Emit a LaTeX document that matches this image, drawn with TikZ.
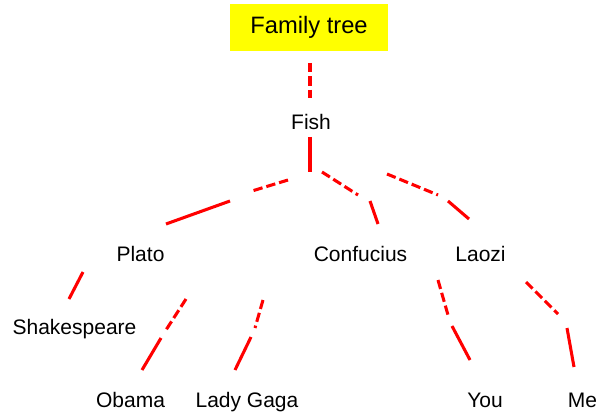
\documentclass[tikz,border=0pt]{standalone}
\usepackage{fontspec}
\setmainfont{Liberation Sans}
\usepackage{tikz}

\tikzset{
  link/.style={draw={rgb, 255:red, 255; green, 0; blue, 0}, line width=2.3pt},
  linkdash/.style={link, dash pattern=on 7pt off 3pt},
  person/.style={anchor=base, inner sep=0.75pt, font=\fontsize{15.75}{19}\selectfont},
  titlebox/.style={fill={rgb, 255:red, 255; green, 255; blue, 0}, minimum width=118.5pt, minimum height=35.25pt, inner sep=0pt, font=\fontsize{17.8}{21}\selectfont}
}

\begin{document}
\begin{tikzpicture}[x=0.75pt,y=0.75pt,yscale=-1,xscale=1]
%set diagram left start at 0, and has height of 413
\path[use as bounding box] (0,0) rectangle (598,413);

% Title Box
\node (title) [titlebox] at (309,27.5) {Family tree};

% Text Node
\draw (311,130) node (fish) [person] {Fish};
% Text Node
\draw (140.5,261) node (plato) [person] {Plato};
% Text Node
\draw (360.5,261) node (confucius) [person] {Confucius};
% Text Node
\draw (480.5,261) node (laozi) [person] {Laozi};
% Text Node
\draw (74.5,334) node (shakespeare) [person] {Shakespeare};
% Text Node
\draw (130.5,407) node (obama) [person] {Obama};
% Text Node
\draw (247,407) node (ladygaga) [person] {Lady Gaga};
% Text Node
\draw (485,407) node (you) [person] {You};
% Text Node
\draw (582.5,407) node (me) [person] {Me};

%Coordinates of the line ends
\coordinate (tf1) at (310,63);   \coordinate (tf2) at (310,98);
\coordinate (fr1) at (310,137);  \coordinate (fr2) at (310,172);
\coordinate (fp1) at (288,180);  \coordinate (fp2) at (252,191);
\coordinate (fp3) at (230,201);  \coordinate (fp4) at (166,224);
\coordinate (fc1) at (322,172);  \coordinate (fc2) at (358,195);
\coordinate (fc3) at (370,201);  \coordinate (fc4) at (378,224);
\coordinate (fl1) at (387,174);  \coordinate (fl2) at (438,195);
\coordinate (fl3) at (448,201);  \coordinate (fl4) at (469,219);
\coordinate (ps1) at (83,272);   \coordinate (ps2) at (69,299);
\coordinate (po1) at (186,299);  \coordinate (po2) at (166,330);
\coordinate (po3) at (161,338);  \coordinate (po4) at (142,370);
\coordinate (pg1) at (263,300);  \coordinate (pg2) at (255,328);
\coordinate (pg3) at (251,337);  \coordinate (pg4) at (235,370);
\coordinate (ly1) at (438,280);  \coordinate (ly2) at (448,315);
\coordinate (ly3) at (452,326);  \coordinate (ly4) at (470,360);
\coordinate (lm1) at (526,282);  \coordinate (lm2) at (558,314);
\coordinate (lm3) at (567,328);  \coordinate (lm4) at (574,367);

%Straight Lines
\draw [linkdash] (tf1) -- (tf2) ;
%Straight Lines
\draw [link] (fr1) -- (fr2) ;
%Straight Lines
\draw [linkdash] (fp1) -- (fp2) ;
\draw [link] (fp3) -- (fp4) ;
%Straight Lines
\draw [linkdash] (fc1) -- (fc2) ;
\draw [link] (fc3) -- (fc4) ;
%Straight Lines
\draw [linkdash] (fl1) -- (fl2) ;
\draw [link] (fl3) -- (fl4) ;
%Straight Lines
\draw [link] (ps1) -- (ps2) ;
%Straight Lines
\draw [linkdash] (po1) -- (po2) ;
\draw [link] (po3) -- (po4) ;
%Straight Lines
\draw [linkdash] (pg1) -- (pg2) ;
\draw [link] (pg3) -- (pg4) ;
%Straight Lines
\draw [linkdash] (ly1) -- (ly2) ;
\draw [link] (ly3) -- (ly4) ;
%Straight Lines
\draw [linkdash] (lm1) -- (lm2) ;
\draw [link] (lm3) -- (lm4) ;

\end{tikzpicture}
\end{document}
